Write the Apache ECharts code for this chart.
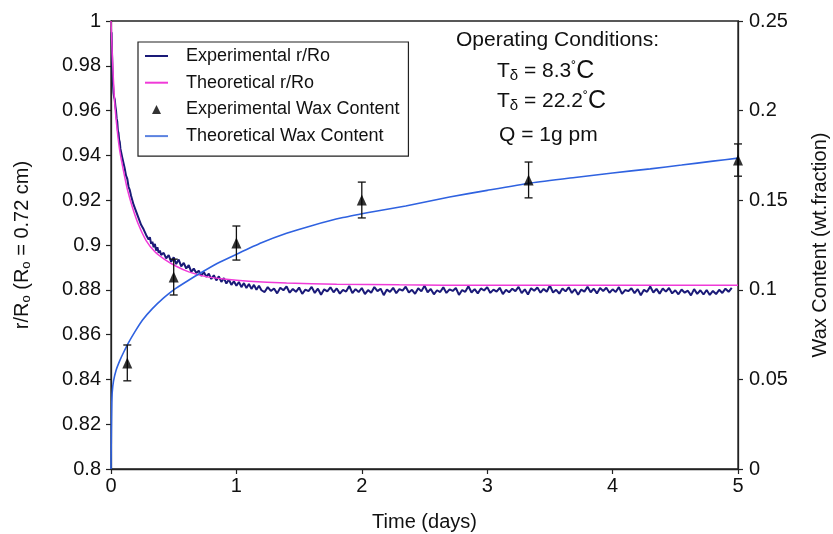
<!DOCTYPE html>
<html lang="en">
<head>
    <meta charset="UTF-8">
    <title>Wax deposition</title>
    <script src="https://cdn.jsdelivr.net/npm/echarts@6/dist/echarts.min.js"></script>
</head>
<style>
    body { margin: 0; background: #fff; }
    #chart { width: 833px; height: 534px; }
</style>
<body>
<div id="chart"></div>

<script>
    const FONT = "'Liberation Sans', Arial, sans-serif";

    // experimental r/Ro, [time (days), r/Ro]
    const expRatio = [
        [0.004, 0.995], [0.008, 0.986], [0.012, 0.978], [0.016, 0.972], [0.02, 0.968], [0.025, 0.966],
        [0.03, 0.965], [0.035, 0.962], [0.04, 0.96], [0.045, 0.9565], [0.05, 0.955], [0.055, 0.951],
        [0.06, 0.95], [0.065, 0.947], [0.07, 0.946], [0.075, 0.943], [0.08, 0.9425], [0.09, 0.939],
        [0.1, 0.9365], [0.11, 0.934], [0.12, 0.931], [0.13, 0.9295], [0.14, 0.926], [0.15, 0.9245],
        [0.16, 0.922], [0.17, 0.9215], [0.18, 0.918], [0.19, 0.9175], [0.2, 0.915], [0.21, 0.9145],
        [0.22, 0.912], [0.23, 0.9125], [0.24, 0.909], [0.25, 0.9095], [0.26, 0.907], [0.27, 0.9075],
        [0.28, 0.9045], [0.29, 0.905], [0.3, 0.9025], [0.31, 0.9035], [0.32, 0.9005], [0.33, 0.9015],
        [0.34, 0.899], [0.35, 0.9005], [0.36, 0.8975], [0.37, 0.899], [0.38, 0.8965], [0.39, 0.8975],
        [0.4, 0.8955], [0.42, 0.8965], [0.44, 0.894], [0.46, 0.8955], [0.48, 0.8925], [0.5, 0.8945],
        [0.52, 0.8915], [0.54, 0.8935], [0.56, 0.8905], [0.58, 0.892], [0.6, 0.8895], [0.62, 0.891],
        [0.64, 0.888], [0.66, 0.8895], [0.68, 0.8875], [0.7, 0.8885], [0.72, 0.8862], [0.74, 0.888],
        [0.76, 0.8858], [0.78, 0.8872], [0.8, 0.8848], [0.82, 0.8865], [0.84, 0.8842], [0.86, 0.886],
        [0.88, 0.8835], [0.9, 0.8852], [0.92, 0.8828], [0.94, 0.8846], [0.96, 0.8822], [0.98, 0.8838],
        [1.0, 0.8818], [1.02, 0.8835], [1.04, 0.8812], [1.06, 0.883], [1.08, 0.8808], [1.1, 0.8826],
        [1.12, 0.8804], [1.14, 0.8822], [1.16, 0.88], [1.18, 0.8818], [1.2, 0.8798],
        [1.225, 0.879], [1.25, 0.8812], [1.275, 0.8795], [1.3, 0.8806], [1.325, 0.8784], [1.35, 0.8809],
        [1.375, 0.8798], [1.4, 0.8815], [1.425, 0.8787], [1.45, 0.8804], [1.475, 0.8791], [1.5, 0.881],
        [1.525, 0.8782], [1.55, 0.8801], [1.575, 0.8794], [1.6, 0.8813], [1.625, 0.8786], [1.65, 0.8805],
        [1.675, 0.8778], [1.7, 0.8802], [1.725, 0.8793], [1.75, 0.8811], [1.775, 0.8789], [1.8, 0.8806],
        [1.825, 0.8783], [1.85, 0.88], [1.875, 0.8792], [1.9, 0.8817], [1.925, 0.8785], [1.95, 0.8803],
        [1.975, 0.879], [2.0, 0.8808], [2.025, 0.8781], [2.05, 0.8799], [2.075, 0.8787], [2.1, 0.8812],
        [2.125, 0.8794], [2.15, 0.8805], [2.175, 0.8776], [2.2, 0.8801], [2.225, 0.8791], [2.25, 0.8809],
        [2.275, 0.8785], [2.3, 0.8803], [2.325, 0.8796], [2.35, 0.8814], [2.375, 0.8788], [2.4, 0.88],
        [2.425, 0.8782], [2.45, 0.8807], [2.475, 0.8793], [2.5, 0.8818], [2.525, 0.8789], [2.55, 0.8804],
        [2.575, 0.878], [2.6, 0.8798], [2.625, 0.879], [2.65, 0.8811], [2.675, 0.8786], [2.7, 0.8802],
        [2.725, 0.8795], [2.75, 0.8808], [2.775, 0.8777], [2.8, 0.8799], [2.825, 0.8791], [2.85, 0.8816],
        [2.875, 0.8788], [2.9, 0.8803], [2.925, 0.8784], [2.95, 0.8806], [2.975, 0.8797], [3.0, 0.8812],
        [3.025, 0.8786], [3.05, 0.8801], [3.075, 0.8792], [3.1, 0.8809], [3.125, 0.8781], [3.15, 0.88],
        [3.175, 0.8789], [3.2, 0.8805], [3.225, 0.8794], [3.25, 0.8813], [3.275, 0.8785], [3.3, 0.8802],
        [3.325, 0.8779], [3.35, 0.8807], [3.375, 0.8796], [3.4, 0.881], [3.425, 0.8787], [3.45, 0.8804],
        [3.475, 0.8791], [3.5, 0.8819], [3.525, 0.8788], [3.55, 0.88], [3.575, 0.8783], [3.6, 0.8806],
        [3.625, 0.8793], [3.65, 0.8811], [3.675, 0.8786], [3.7, 0.8803], [3.725, 0.8778], [3.75, 0.8801],
        [3.775, 0.8792], [3.8, 0.8814], [3.825, 0.8789], [3.85, 0.8805], [3.875, 0.8784], [3.9, 0.8808],
        [3.925, 0.8795], [3.95, 0.8809], [3.975, 0.8787], [4.0, 0.8802], [4.025, 0.879], [4.05, 0.8812],
        [4.075, 0.8782], [4.1, 0.8799], [4.125, 0.8794], [4.15, 0.8807], [4.175, 0.8785], [4.2, 0.8803],
        [4.225, 0.8776], [4.25, 0.88], [4.275, 0.8791], [4.3, 0.8815], [4.325, 0.8788], [4.35, 0.8804],
        [4.375, 0.8783], [4.4, 0.8806], [4.425, 0.8792], [4.45, 0.8808], [4.475, 0.8784], [4.5, 0.8798],
        [4.525, 0.878], [4.55, 0.8801], [4.575, 0.8787], [4.6, 0.8796], [4.625, 0.8775], [4.65, 0.8803],
        [4.675, 0.8782], [4.7, 0.8798], [4.725, 0.8779], [4.75, 0.8799], [4.775, 0.8777], [4.8, 0.8795],
        [4.825, 0.8781], [4.85, 0.88], [4.875, 0.8786], [4.9, 0.8805], [4.925, 0.8791], [4.95, 0.8809]
    ];

    // theoretical r/Ro
    const theoTime = [0, 0.005, 0.01, 0.02, 0.03, 0.05, 0.07, 0.1, 0.13, 0.17, 0.22, 0.28, 0.35,
        0.43, 0.52, 0.62, 0.75, 0.9, 1.1, 1.4, 1.8, 2.3, 3, 4, 5];
    const theoRatio = [1.0, 0.993, 0.985, 0.973, 0.963, 0.951, 0.942, 0.933, 0.925, 0.917, 0.909, 0.902, 0.897,
        0.8935, 0.8905, 0.888, 0.886, 0.8848, 0.8838, 0.883, 0.8825, 0.8822, 0.882, 0.882, 0.882];

    // theoretical wax content (wt. fraction)
    const waxTheoTime = [0, 0.003, 0.006, 0.01, 0.02, 0.04, 0.07, 0.1, 0.14, 0.19, 0.25, 0.33, 0.42, 0.5,
        0.6, 0.71, 0.85, 1.0, 1.2, 1.4, 1.6, 1.85, 2.1, 2.35, 2.7, 3.0, 3.35, 3.7, 4.0, 4.3, 4.55, 4.8, 5];
    const waxTheo = [0, 0.022, 0.036, 0.043, 0.049, 0.055, 0.0605, 0.065, 0.0705, 0.0765, 0.083, 0.0895,
        0.0955, 0.1, 0.1045, 0.1092, 0.1148, 0.1198, 0.1262, 0.1315, 0.1358, 0.1403, 0.1437, 0.1468,
        0.1518, 0.1555, 0.1596, 0.1627, 0.1652, 0.1675, 0.1696, 0.1718, 0.1735];

    // experimental wax content with error bars
    const waxExpTime = [0.13, 0.5, 1.0, 2.0, 3.33, 5.0];
    const waxExp = [0.0592, 0.1071, 0.1261, 0.1501, 0.1613, 0.1724];
    const waxErr = [0.01, 0.01, 0.0095, 0.01, 0.01, 0.009];

    const zip = (xs, ys) => xs.map((x, i) => [x, ys[i]]);
    const errData = waxExpTime.map((t, i) => [t, waxExp[i], waxExp[i] - waxErr[i], waxExp[i] + waxErr[i]]);

    const LINE_ICON = 'path://M0,0 L23,0 L23,2 L0,2 Z';
    const TRI_ICON = 'path://M5,0 L10,10 L0,10 Z';

    const axisCommon = {
        axisLine: {show: true, lineStyle: {color: '#222', width: 1.3}},
        axisTick: {show: true, length: 5, lineStyle: {color: '#222', width: 1.2}},
        axisLabel: {color: '#111', fontSize: 20, fontFamily: FONT},
        splitLine: {show: false},
        nameTextStyle: {color: '#111', fontSize: 20, fontFamily: FONT}
    };

    const option = {
        backgroundColor: '#fff',
        animation: false,
        grid: {
            left: 111, right: 95, top: 21, bottom: 65, outerBoundsMode: 'none',
            show: true, borderColor: '#222', borderWidth: 1.3
        },
        legend: {
            orient: 'vertical',
            left: 138,
            top: 42,
            padding: [5, 9, 11, 7],
            itemWidth: 23,
            itemHeight: 9,
            itemGap: 8.7,
            borderColor: '#222',
            borderWidth: 1.2,
            textStyle: {fontSize: 18, fontFamily: FONT, color: '#111', lineHeight: 18, padding: [0, 0, 0, 13]},
            data: [
                {name: 'Experimental r/Ro', icon: LINE_ICON},
                {name: 'Theoretical r/Ro', icon: LINE_ICON},
                {name: 'Experimental Wax Content', icon: TRI_ICON},
                {name: 'Theoretical Wax Content', icon: LINE_ICON}
            ]
        },
        xAxis: Object.assign({}, axisCommon, {
            type: 'value', min: 0, max: 5, interval: 1,
            name: 'Time (days)', nameLocation: 'middle', nameGap: 43,
            axisLabel: Object.assign({}, axisCommon.axisLabel, {margin: 7})
        }),
        yAxis: [
            Object.assign({}, axisCommon, {
                type: 'value', min: 0.8, max: 1, interval: 0.02,
                name: 'r/R{s|o} (R{s|o} = 0.72 cm)', nameLocation: 'middle', nameGap: 78, nameRotate: 90,
                nameTextStyle: Object.assign({}, axisCommon.nameTextStyle, {
                    rich: {s: {fontSize: 13, fontFamily: FONT, color: '#111', padding: [9, 0, 0, 0]}}
                }),
                axisLabel: Object.assign({}, axisCommon.axisLabel, {margin: 10})
            }),
            Object.assign({}, axisCommon, {
                type: 'value', min: 0, max: 0.25, interval: 0.05, position: 'right',
                name: 'Wax Content (wt.fraction)', nameLocation: 'middle', nameGap: 72, nameRotate: 90,
                axisLabel: Object.assign({}, axisCommon.axisLabel, {margin: 11})
            })
        ],
        graphic: [
            {type: 'text', left: 456, top: 30, style: {text: 'Operating Conditions:', font: '21px ' + FONT, fill: '#111'}},
            {
                type: 'text', left: 497, top: 59,
                style: {
                    text: 'T{s|δ} = 8.3{d|˚}{c|C}', font: '21px ' + FONT, fill: '#111',
                    rich: {
                        s: {fontSize: 15, fontFamily: FONT, padding: [9, 0, 0, 0]},
                        d: {fontSize: 15, fontFamily: FONT, padding: [0, 0, 8, 0]},
                        c: {fontSize: 25, fontFamily: FONT}
                    }
                }
            },
            {
                type: 'text', left: 497, top: 89,
                style: {
                    text: 'T{s|δ} = 22.2{d|˚}{c|C}', font: '21px ' + FONT, fill: '#111',
                    rich: {
                        s: {fontSize: 15, fontFamily: FONT, padding: [9, 0, 0, 0]},
                        d: {fontSize: 15, fontFamily: FONT, padding: [0, 0, 8, 0]},
                        c: {fontSize: 25, fontFamily: FONT}
                    }
                }
            },
            {type: 'text', left: 499, top: 125, style: {text: 'Q = 1g pm', font: '21px ' + FONT, fill: '#111'}}
        ],
        series: [
            {
                name: 'Experimental r/Ro', type: 'line', yAxisIndex: 0, data: expRatio,
                symbol: 'none', lineStyle: {color: '#1a1a78', width: 2}, itemStyle: {color: '#1a1a78'}, z: 3
            },
            {
                name: 'Theoretical r/Ro', type: 'line', yAxisIndex: 0, data: zip(theoTime, theoRatio),
                symbol: 'none', smooth: 0.2, lineStyle: {color: '#f03ad8', width: 1.5}, itemStyle: {color: '#f03ad8'}, z: 4
            },
            {
                name: 'Theoretical Wax Content', type: 'line', yAxisIndex: 1, data: zip(waxTheoTime, waxTheo),
                symbol: 'none', smooth: 0.2, lineStyle: {color: '#2f62e0', width: 1.6}, itemStyle: {color: '#5b82e0'}, z: 5
            },
            {
                name: 'error', type: 'custom', yAxisIndex: 1, data: errData, z: 6,
                encode: {x: 0, y: [2, 3]},
                renderItem: function (params, api) {
                    const lo = api.coord([api.value(0), api.value(2)]);
                    const hi = api.coord([api.value(0), api.value(3)]);
                    const w = 4;
                    const st = {stroke: '#111', lineWidth: 1.3};
                    return {
                        type: 'group',
                        children: [
                            {type: 'line', shape: {x1: lo[0], y1: lo[1], x2: hi[0], y2: hi[1]}, style: st},
                            {type: 'line', shape: {x1: lo[0] - w, y1: lo[1], x2: lo[0] + w, y2: lo[1]}, style: st},
                            {type: 'line', shape: {x1: hi[0] - w, y1: hi[1], x2: hi[0] + w, y2: hi[1]}, style: st}
                        ]
                    };
                }
            },
            {
                name: 'Experimental Wax Content', type: 'scatter', yAxisIndex: 1, data: zip(waxExpTime, waxExp),
                symbol: 'triangle', symbolSize: [10, 11], itemStyle: {color: '#000'}, z: 7
            }
        ]
    };

    let chart = echarts.init(document.getElementById('chart'));
    chart.setOption(option);
</script>
</body>
</html>
